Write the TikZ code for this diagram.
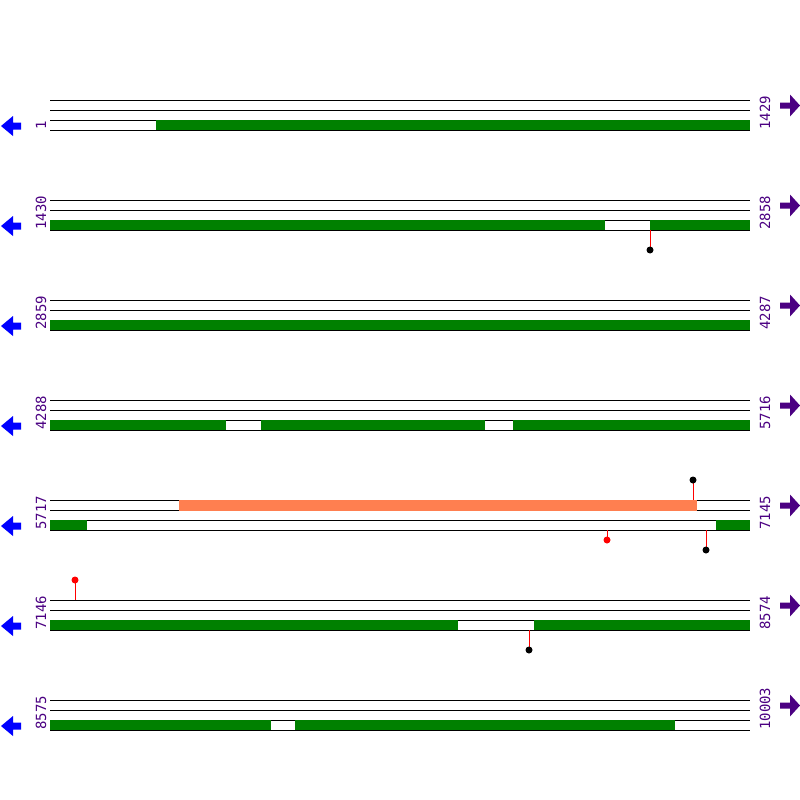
\documentclass[tikz,border=0pt]{standalone}
\usepackage{fontspec}
\setmonofont{DejaVu Sans Mono}
\usepackage{tikz}
\usetikzlibrary{calc}

\definecolor{seqpurple}{HTML}{4B0082}
\definecolor{cdsgreen}{HTML}{008000}
\definecolor{mrnacoral}{HTML}{FF7F50}

\tikzset{
	track/.style={line width=1pt, black},
	cds/.style={fill=cdsgreen},
	mrna/.style={fill=mrnacoral},
	stick/.style={line width=1pt, red},
	poslabel/.style={rotate=90, anchor=west, inner sep=0pt, text=seqpurple,
		font=\ttfamily\fontsize{14}{14}\selectfont},
}

\begin{document}
\begin{tikzpicture}[x=1pt, y=-1pt]
	\useasboundingbox[fill=white] (0,0) rectangle (800,800);
	
	\foreach \r/\first/\last in {0/1/1429,1/1430/2858,2/2859/4287,3/4288/5716,4/5717/7145,5/7146/8574,6/8575/10003}{
		\pgfmathsetmacro{\y}{100+100*\r}
		\foreach \d in {0,10,20,30}
			\draw[track] (50,\y+\d) -- (750,\y+\d);
		\fill[blue] (1,\y+26) -- (13,\y+16) -- (13,\y+22.5) -- (21,\y+22.5) -- (21,\y+29.5)
			-- (13,\y+29.5) -- (13,\y+36) -- cycle;
		\fill[seqpurple] (800,\y+5.5) -- (790,\y-5.5) -- (790,\y+2.5) -- (780,\y+2.5) -- (780,\y+8.5)
			-- (790,\y+8.5) -- (790,\y+16.5) -- cycle;
		\node[poslabel] (first\r) at (41,\y+30) {\first};
		\node[poslabel] (last\r) at (765,\y+30) {\last};
	}
	
	% row 1
	\fill[cds] (156,120) rectangle (750,130);
	
	% row 2
	\fill[cds] (50,220) rectangle (605,230);
	\fill[cds] (650,220) rectangle (750,230);
	\draw[stick] (650,230) -- (650,250);
	\fill[black] (650,250) circle (3.5);
	
	% row 3
	\fill[cds] (50,320) rectangle (750,330);
	
	% row 4
	\fill[cds] (50,420) rectangle (226,430);
	\fill[cds] (261,420) rectangle (485,430);
	\fill[cds] (513,420) rectangle (750,430);
	
	% row 5
	\fill[mrna] (179,500) rectangle (697,511);
	\draw[stick] (693,500) -- (693,480);
	\fill[black] (693,480) circle (3.5);
	\fill[cds] (50,520) rectangle (87,530);
	\fill[cds] (716,520) rectangle (750,530);
	\draw[stick] (607,530) -- (607,540);
	\fill[red] (607,540) circle (3.5);
	\draw[stick] (706,530) -- (706,550);
	\fill[black] (706,550) circle (3.5);
	
	% row 6
	\draw[stick] (75,600) -- (75,580);
	\fill[red] (75,580) circle (3.5);
	\fill[cds] (50,620) rectangle (458,630);
	\fill[cds] (534,620) rectangle (750,630);
	\draw[stick] (529,630) -- (529,650);
	\fill[black] (529,650) circle (3.5);
	
	% row 7
	\fill[cds] (50,720) rectangle (271,730);
	\fill[cds] (295,720) rectangle (675,730);
\end{tikzpicture}
\end{document}
